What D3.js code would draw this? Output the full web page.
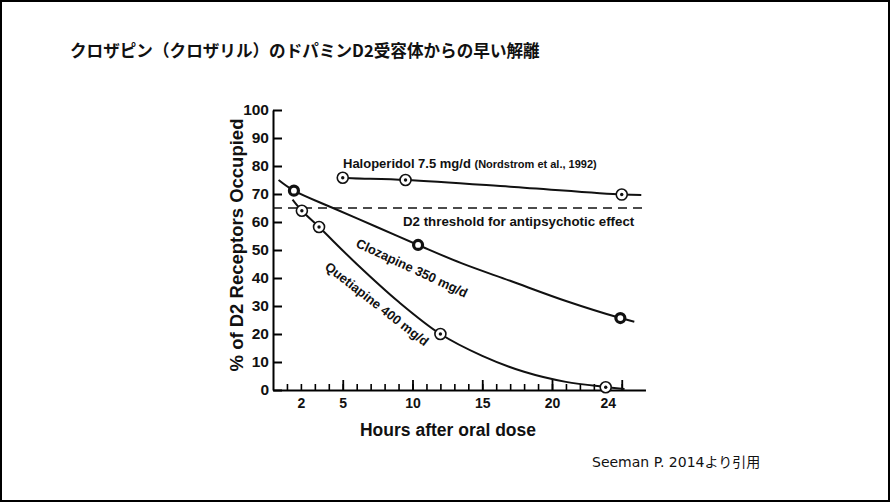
<!DOCTYPE html>
<html>
<head>
<meta charset="utf-8">
<script src="https://cdn.jsdelivr.net/npm/d3@7"></script>
<style>
  body { margin: 0; background: #fff; }
  text { font-family: "Liberation Sans", Arial, sans-serif; font-weight: bold; fill: #111; }
</style>
</head>
<body>
<svg width="890" height="502"></svg>
<script>
// values (hours, % occupancy)
const yTicks = [0, 10, 20, 30, 40, 50, 60, 70, 80, 90, 100];
const hourTicks = d3.range(1, 26);
const majorHourTicks = [5, 10, 15, 20, 25];
const hourLabels = [2, 5, 10, 15, 20, 24];
const threshold = 65;

const haloperidolPts = [[5, 75.8], [9.5, 75], [25, 69.8]];
const haloperidolLine = [[4.6, 76.1], [5, 75.8], [9.5, 75], [17, 72.6], [25, 69.8], [26.4, 69.6]];

const clozapinePts = [[1.5, 71.2], [10.4, 51.8], [24.9, 25.7]];
const clozapineLine = [[0.4, 75], [1.5, 71.2], [4.3, 65], [7.4, 58.3], [10.4, 51.8], [13.5, 45.3],
                       [17, 39], [21, 31.8], [24.9, 25.7], [25.9, 24.4]];

const quetiapinePts = [[2.07, 64], [3.3, 58.2], [12, 20], [23.85, 1]];
const quetiapineLine = [[1.4, 68], [2.07, 64], [3.3, 58.2], [6, 45], [9, 31.5], [12, 20], [15, 12.2],
                        [18, 6.5], [21, 2.9], [23.85, 1.1], [25.2, 0.4]];

const svg = d3.select("svg");

svg.append("rect")
    .attr("x", 1).attr("y", 1).attr("width", 888).attr("height", 500)
    .attr("fill", "none").attr("stroke", "#000").attr("stroke-width", 2);

svg.append("text")
    .attr("x", 70).attr("y", 57)
    .style("font-family", "'Noto Sans CJK JP', sans-serif")
    .style("font-size", "16.6px")
    .text("クロザピン（クロザリル）のドパミンD2受容体からの早い解離");

svg.append("text")
    .attr("x", 592).attr("y", 467)
    .style("font-family", "'DejaVu Sans', 'Noto Sans CJK JP', sans-serif")
    .style("font-weight", "normal")
    .style("font-size", "14px")
    .text("Seeman P. 2014より引用");

const x = d3.scaleLinear().domain([0, 26.7]).range([273, 273 + 26.7 * 13.95]);
const y = d3.scaleLinear().domain([0, 100]).range([390, 110]);

// y axis, ticks pointing inward
const yAxis = svg.append("g")
    .attr("transform", `translate(${x(0)},0)`)
    .call(d3.axisLeft(y).tickValues(yTicks).tickSize(-9).tickSizeOuter(0).tickPadding(4));
yAxis.select(".domain").attr("stroke-width", 2);
yAxis.selectAll(".tick line").attr("stroke-width", 2);
yAxis.selectAll("text").style("font-size", "15.5px").attr("fill", "#111");

// x axis: minor + major ticks upward, labels below
const xBase = svg.append("g").attr("transform", `translate(0,${y(0)})`);
const xMinor = xBase.append("g")
    .call(d3.axisBottom(x).tickValues(hourTicks).tickSize(-6).tickSizeOuter(0).tickFormat(""));
xMinor.select(".domain").attr("stroke-width", 2);
xMinor.selectAll(".tick line").attr("stroke-width", 1.6);
const xMajor = xBase.append("g")
    .call(d3.axisBottom(x).tickValues(majorHourTicks).tickSize(-10).tickFormat(""));
xMajor.select(".domain").remove();
xMajor.selectAll(".tick line").attr("stroke-width", 1.8);
const xLab = xBase.append("g")
    .call(d3.axisBottom(x).tickValues(hourLabels).tickSize(0).tickPadding(8));
xLab.select(".domain").remove();
xLab.selectAll("text").style("font-size", "14px").attr("fill", "#111");

svg.append("text")
    .attr("x", 448).attr("y", 436)
    .attr("text-anchor", "middle")
    .style("font-size", "17.5px")
    .text("Hours after oral dose");

svg.append("text")
    .attr("transform", "translate(243,245) rotate(-90)")
    .attr("text-anchor", "middle")
    .style("font-size", "18.5px")
    .text("% of D2 Receptors Occupied");

// threshold
svg.append("line")
    .attr("x1", x(0)).attr("x2", x(26.7))
    .attr("y1", y(threshold)).attr("y2", y(threshold))
    .attr("stroke", "#111").attr("stroke-width", 1.6)
    .attr("stroke-dasharray", "9,6");

svg.append("text")
    .attr("x", 403).attr("y", 226)
    .style("font-size", "13.3px")
    .text("D2 threshold for antipsychotic effect");

// curves
const line = d3.line()
    .x(d => x(d[0]))
    .y(d => y(d[1]))
    .curve(d3.curveCatmullRom);

[haloperidolLine, clozapineLine, quetiapineLine].forEach(s => {
  svg.append("path")
      .attr("d", line(s))
      .attr("fill", "none")
      .attr("stroke", "#111")
      .attr("stroke-width", 2);
});

// markers
const openPts = haloperidolPts.concat(quetiapinePts);
svg.append("g").selectAll("circle")
  .data(openPts)
  .join("circle")
    .attr("cx", d => x(d[0])).attr("cy", d => y(d[1]))
    .attr("r", 5.5)
    .attr("fill", "#fff").attr("stroke", "#111").attr("stroke-width", 1.6);
svg.append("g").selectAll("circle")
  .data(openPts)
  .join("circle")
    .attr("cx", d => x(d[0])).attr("cy", d => y(d[1]))
    .attr("r", 1.7)
    .attr("fill", "#111");

svg.append("g").selectAll("circle")
  .data(clozapinePts)
  .join("circle")
    .attr("cx", d => x(d[0])).attr("cy", d => y(d[1]))
    .attr("r", 4.5)
    .attr("fill", "#fff").attr("stroke", "#111").attr("stroke-width", 3.2);

// series labels
const halo = svg.append("text")
    .attr("x", 343).attr("y", 168)
    .style("font-size", "13px");
halo.append("tspan").text("Haloperidol 7.5 mg/d ");
halo.append("tspan").style("font-size", "11px").text("(Nordstrom et al., 1992)");

svg.append("text")
    .attr("transform", "translate(412,268) rotate(25)")
    .attr("text-anchor", "middle")
    .attr("dy", "0.35em")
    .style("font-size", "13px")
    .text("Clozapine 350 mg/d");

svg.append("text")
    .attr("transform", "translate(377,304) rotate(38)")
    .attr("text-anchor", "middle")
    .attr("dy", "0.35em")
    .style("font-size", "13px")
    .text("Quetiapine 400 mg/d");
</script>
</body>
</html>
